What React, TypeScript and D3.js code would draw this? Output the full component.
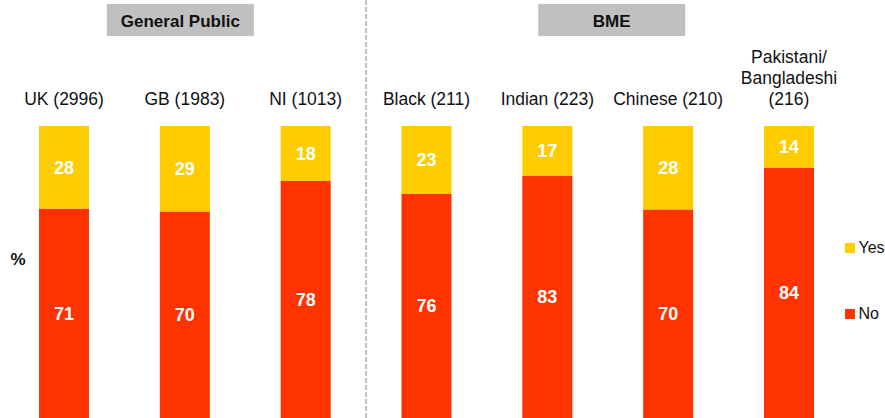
import React from "react";
import * as d3 from "d3";

const categories = ["UK (2996)", "GB (1983)", "NI (1013)", "Black (211)", "Indian (223)", "Chinese (210)", "Pakistani/\nBangladeshi\n(216)"];
const yesValues = [28, 29, 18, 23, 17, 28, 14];
const noValues = [71, 70, 78, 76, 83, 70, 84];
const seriesNames = ["No", "Yes"];
const groups = [
  { label: "General Public", from: 0, to: 2, shift: -4.5 },
  { label: "BME", from: 3, to: 6, shift: 4 },
];

const W = 885;
const H = 418;
const COLORS: Record<string, string> = { Yes: "#FFCC00", No: "#FF3300" };
const FONT = "'Liberation Sans', Arial, Helvetica, sans-serif";

export default function App() {
  React.useEffect(() => {
    document.body.style.margin = "0";
  }, []);

  const rows = categories.map((c, i) => ({ cat: c, Yes: yesValues[i], No: noValues[i] }));
  const stack = d3.stack<any>().keys(seriesNames).offset(d3.stackOffsetExpand);
  const layers = stack(rows);

  const x = d3.scaleBand<string>().domain(categories).range([3.6, 849.4]).paddingInner(0.586).paddingOuter(0.293);
  const y = d3.scaleLinear().domain([0, 1]).range([418, 126]);

  const bw = x.bandwidth();
  const cx = (i: number) => (x(categories[i]) as number) + bw / 2;
  const dividerX = (cx(2) + cx(3)) / 2;

  return (
    <svg width={W} height={H} style={{ display: "block" }} fontFamily={FONT}>
      {/* divider */}
      <line x1={dividerX} x2={dividerX} y1={0} y2={H} stroke="#C0C0C0" strokeWidth={2} strokeDasharray="5,2" />

      {/* group headers */}
      {groups.map((g) => {
        const c = (cx(g.from) + cx(g.to)) / 2 + g.shift;
        return (
          <g key={g.label}>
            <rect x={c - 73.5} y={4} width={147} height={32} fill="#C0C0C0" />
            <text x={c} y={26.5} textAnchor="middle" fontWeight="bold" fontSize={17} fill="#111">
              {g.label}
            </text>
          </g>
        );
      })}

      {/* category labels */}
      {categories.map((c, i) => {
        const lines = c.split("\n");
        return (
          <text key={c} x={cx(i)} textAnchor="middle" fontSize={17.5} fill="#111">
            {lines.map((ln, j) => (
              <tspan key={j} x={cx(i)} y={105 - (lines.length - 1 - j) * 21}>
                {ln}
              </tspan>
            ))}
          </text>
        );
      })}

      {/* bars */}
      {layers.map((layer) => (
        <g key={layer.key} fill={COLORS[layer.key]}>
          {layer.map((d, i) => (
            <rect key={i} x={x(categories[i])} y={y(d[1])} width={bw} height={y(d[0]) - y(d[1])} />
          ))}
        </g>
      ))}

      {/* value labels */}
      {layers.map((layer) =>
        layer.map((d, i) => (
          <text
            key={layer.key + i}
            x={cx(i)}
            y={(y(d[0]) + y(d[1])) / 2 + 6.5}
            textAnchor="middle"
            fontWeight="bold"
            fontSize={18}
            fill="#fff"
          >
            {(d.data as any)[layer.key]}
          </text>
        ))
      )}

      {/* % label */}
      <text x={18} y={265} textAnchor="middle" fontWeight="bold" fontSize={17} fill="#111">
        %
      </text>

      {/* legend */}
      {["Yes", "No"].map((k, j) => (
        <g key={k} transform={`translate(845, ${243 + j * 66})`}>
          <rect width={10} height={10} fill={COLORS[k]} />
          <text x={13.5} y={10} fontSize={16} fill="#111">
            {k}
          </text>
        </g>
      ))}
    </svg>
  );
}
